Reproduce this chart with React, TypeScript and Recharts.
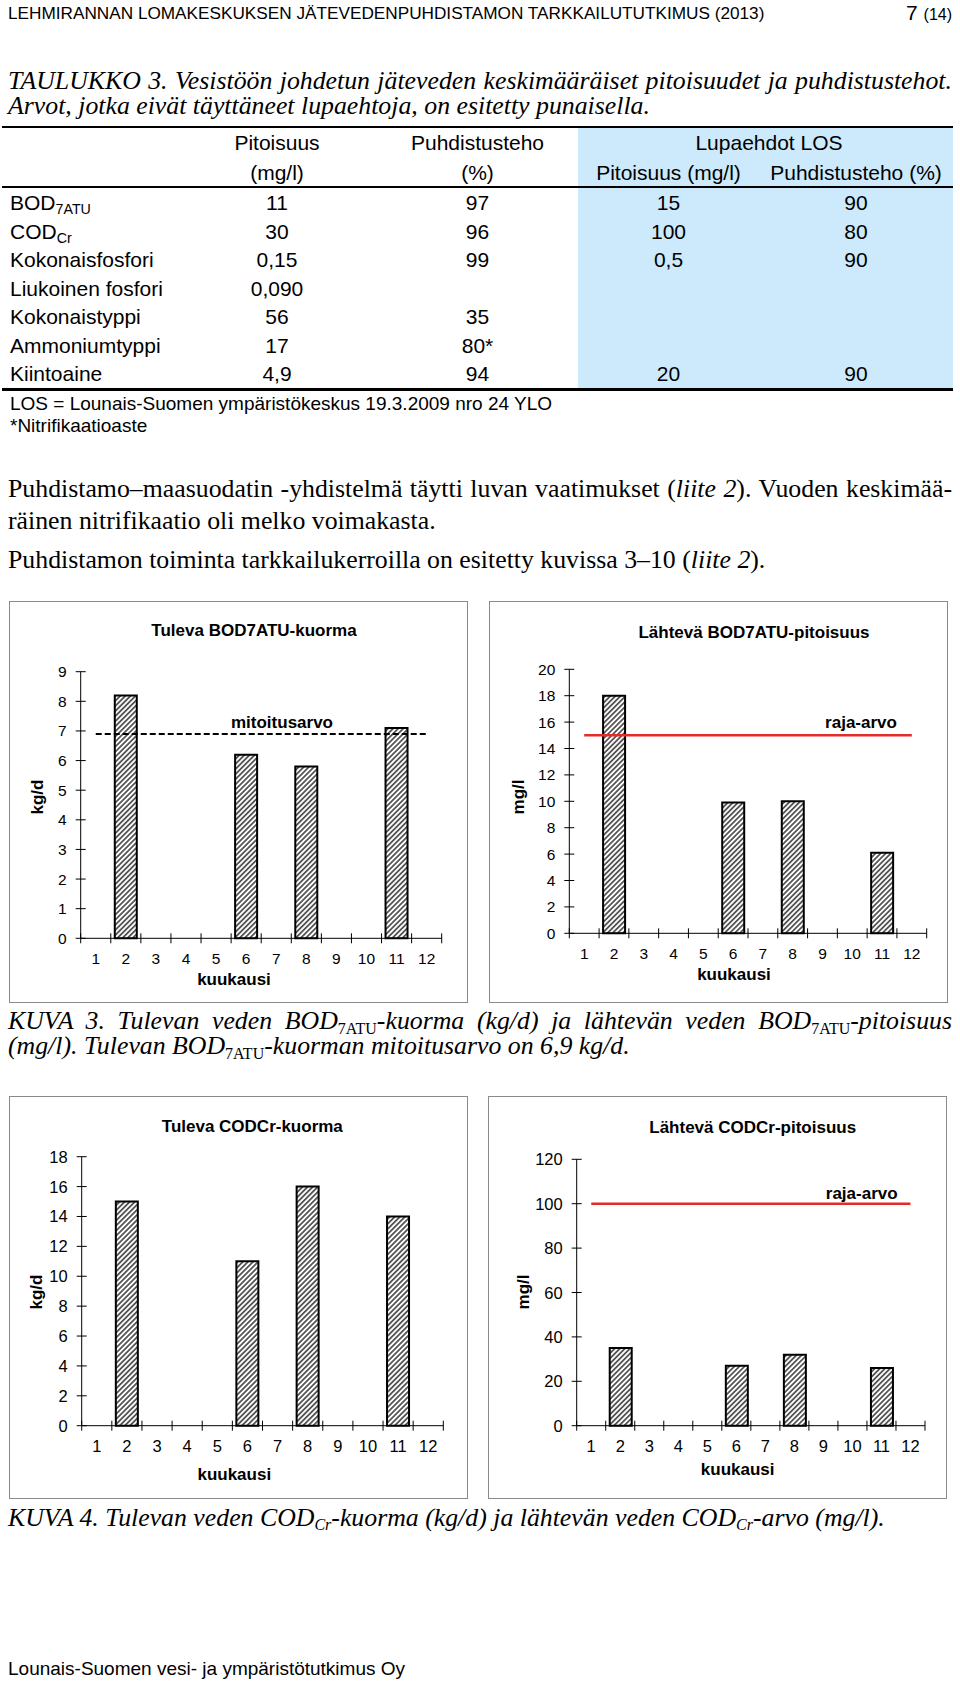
import React from 'react';
import { ComposedChart, Bar, XAxis, YAxis, ReferenceLine } from 'recharts';

// ---------- data ----------
const months = ['1', '2', '3', '4', '5', '6', '7', '8', '9', '10', '11', '12'];
const bodInLoad = [null, 8.2, null, null, null, 6.2, null, 5.8, null, null, 7.1, null];
const bodOutConc = [null, 18, null, null, null, 9.9, null, 10, null, null, 6.1, null];
const codInLoad = [null, 15, null, null, null, 11, null, 16, null, null, 14, null];
const codOutConc = [null, 35, null, null, null, 27, null, 32, null, null, 26, null];
const bodInTicks = [0, 1, 2, 3, 4, 5, 6, 7, 8, 9];
const bodOutTicks = [0, 2, 4, 6, 8, 10, 12, 14, 16, 18, 20];
const codInTicks = [0, 2, 4, 6, 8, 10, 12, 14, 16, 18];
const codOutTicks = [0, 20, 40, 60, 80, 100, 120];
const bodDesignValue = 6.9;
const bodOutLimit = 15;
const codOutLimit = 100;

const rowNames = ['BOD', 'COD', 'Kokonaisfosfori', 'Liukoinen fosfori', 'Kokonaistyppi', 'Ammoniumtyppi', 'Kiintoaine'];
const rowSubs = ['7ATU', 'Cr', '', '', '', '', ''];
const concVals = ['11', '30', '0,15', '0,090', '56', '17', '4,9'];
const effVals = ['97', '96', '99', '', '35', '80*', '94'];
const permitConc = ['15', '100', '0,5', '', '', '', '20'];
const permitEff = ['90', '80', '90', '', '', '', '90'];

// ---------- styles ----------
const SANS = "'Liberation Sans', Arial, Helvetica, sans-serif";
const SERIF = "'Liberation Serif', 'Times New Roman', Times, serif";
const TS = 5;
const TM = 5;
const BODY = 25.8;

type TProps = {
  x: number; y: number; size: number; children: React.ReactNode;
  anchor?: 'start' | 'middle' | 'end'; bold?: boolean; italic?: boolean; serif?: boolean; rotate?: boolean;
};

function T({ x, y, size, children, anchor = 'start', bold = false, italic = false, serif = false, rotate = false }: TProps) {
  const tx = anchor === 'middle' ? '-50%' : anchor === 'end' ? '-100%' : '0';
  const style: React.CSSProperties = {
    position: 'absolute', left: x, top: y, fontSize: size, lineHeight: `${size}px`, whiteSpace: 'nowrap',
    fontWeight: bold ? 700 : 400, fontStyle: italic ? 'italic' : 'normal', fontFamily: serif ? SERIF : SANS,
    color: '#000',
    transform: rotate ? 'translate(-50%,-50%) rotate(-90deg)' : `translate(${tx},-50%)`,
  };
  return <div style={style}>{children}</div>;
}

function J({ y, size, italic = true, children }: { y: number; size: number; italic?: boolean; children: React.ReactNode }) {
  return (
    <div style={{
      position: 'absolute', left: 8, top: y, width: 944, fontSize: size, lineHeight: `${size}px`,
      fontFamily: SERIF, fontStyle: italic ? 'italic' : 'normal', textAlign: 'justify', textAlignLast: 'justify',
      transform: 'translateY(-50%)', color: '#000',
    }}>{children}</div>
  );
}

const Sub = ({ children, italic = false, size = '0.62em' }: { children: React.ReactNode; italic?: boolean; size?: string }) => (
  <span style={{ fontSize: size, position: 'relative', top: '0.3em', lineHeight: 0, fontStyle: italic ? 'italic' : 'normal' }}>{children}</span>
);

function YTick(props: any) {
  const { x, y, payload, fs } = props;
  const ax = x + TS + TM;
  return (
    <g>
      <line x1={ax - 5} x2={ax + 5} y1={y} y2={y} stroke="#000" strokeWidth={1} />
      <text x={ax - 14} y={y} textAnchor="end" dominantBaseline="central" fontSize={fs} fontFamily={SANS} fill="#000">
        {payload.value}
      </text>
    </g>
  );
}

function XTick(props: any) {
  const { x, y, payload, index, bw, fs } = props;
  const ay = y - TS - TM;
  return (
    <g>
      <line x1={x - bw / 2} x2={x - bw / 2} y1={ay - 5} y2={ay + 5} stroke="#000" strokeWidth={1} />
      {index === 11 && <line x1={x + bw / 2} x2={x + bw / 2} y1={ay - 5} y2={ay + 5} stroke="#000" strokeWidth={1} />}
      <text x={x} y={ay + 20} textAnchor="middle" dominantBaseline="central" fontSize={fs} fontFamily={SANS} fill="#000">
        {payload.value}
      </text>
    </g>
  );
}

type ChartCfg = {
  left: number; top: number; w: number; h: number; yW: number; mTop: number; mRight: number; xH: number;
  values: (number | null)[]; ticks: number[]; max: number; limit?: number; limitColor?: string; dashed?: boolean; fs: number;
};

function Chart({ c }: { c: ChartCfg }) {
  const data = months.map((m, i) => ({ m, v: c.values[i] }));
  const bw = (c.w - c.yW - c.mRight) / 12;
  return (
    <div style={{ position: 'absolute', left: c.left, top: c.top, width: c.w, height: c.h }}>
      <div style={{ position: 'absolute', left: 0, top: 0, width: c.w, height: c.h, border: '1.5px solid #8a8a8a', boxSizing: 'border-box' }} />
      <div style={{ position: 'absolute', left: 0, top: 0 }}>
        <ComposedChart width={c.w} height={c.h} data={data} margin={{ top: c.mTop, right: c.mRight, left: 0, bottom: 0 }}>
          <XAxis dataKey="m" interval={0} height={c.xH} tickSize={TS} tickMargin={TM} tickLine={false}
            axisLine={{ stroke: '#000', strokeWidth: 1 }} tick={(p: any) => <XTick {...p} bw={bw} fs={c.fs} />} />
          <YAxis type="number" domain={[0, c.max]} ticks={c.ticks} interval={0} width={c.yW} tickSize={TS} tickMargin={TM}
            tickLine={false} axisLine={{ stroke: '#000', strokeWidth: 1 }} tick={(p: any) => <YTick {...p} fs={c.fs} />} />
          <Bar dataKey="v" fill="url(#hatch)" stroke="#000" strokeWidth={2} barSize={22} isAnimationActive={false} />
          {c.limit !== undefined && (
            <ReferenceLine segment={[{ x: '1', y: c.limit }, { x: '12', y: c.limit }]}
              stroke={c.limitColor} strokeWidth={c.dashed ? 2 : 2.5} strokeDasharray={c.dashed ? '6 3' : undefined} />
          )}
        </ComposedChart>
      </div>
    </div>
  );
}

const chart1: ChartCfg = { left: 9, top: 601, w: 459, h: 402, yW: 71.7, mTop: 70.7, mRight: 26.3, xH: 64.7, values: bodInLoad, ticks: bodInTicks, max: 9, limit: bodDesignValue, limitColor: '#000', dashed: true, fs: 15.5 };
const chart2: ChartCfg = { left: 489, top: 601, w: 459, h: 402, yW: 80.3, mTop: 68.3, mRight: 21.3, xH: 69.7, values: bodOutConc, ticks: bodOutTicks, max: 20, limit: bodOutLimit, limitColor: '#e32b2b', fs: 15.5 };
const chart3: ChartCfg = { left: 9, top: 1096, w: 459, h: 403, yW: 72.7, mTop: 60.7, mRight: 24.7, xH: 73.3, values: codInLoad, ticks: codInTicks, max: 18, fs: 16.5 };
const chart4: ChartCfg = { left: 488, top: 1096, w: 459, h: 403, yW: 88.7, mTop: 63.3, mRight: 22, xH: 73.3, values: codOutConc, ticks: codOutTicks, max: 120, limit: codOutLimit, limitColor: '#e32b2b', fs: 16.5 };

const rowY = [202, 230.5, 259, 287.5, 316, 344.5, 373];

export default function App() {
  return (
    <div style={{ position: 'absolute', left: 0, top: 0, width: 960, height: 1681, background: '#fff', overflow: 'hidden', fontFamily: SANS }}>
      <svg width={0} height={0} style={{ position: 'absolute' }}>
        <defs>
          <pattern id="hatch" patternUnits="userSpaceOnUse" width={3.6} height={3.6} patternTransform="rotate(45)">
            <rect width={3.6} height={3.6} fill="#fff" />
            <line x1={1.8} y1={0} x2={1.8} y2={3.6} stroke="#000" strokeWidth={1.2} />
          </pattern>
        </defs>
      </svg>

      {/* page header */}
      <T x={8} y={14} size={17.2}>LEHMIRANNAN LOMAKESKUKSEN JÄTEVEDENPUHDISTAMON TARKKAILUTUTKIMUS (2013)</T>
      <T x={952} y={13} size={21} anchor="end">7 <span style={{ fontSize: 16 }}>(14)</span></T>

      {/* table caption */}
      <J y={80.5} size={BODY}>TAULUKKO 3. Vesistöön johdetun jäteveden keskimääräiset pitoisuudet ja puhdistustehot.</J>
      <T x={8} y={106} size={BODY} serif italic>Arvot, jotka eivät täyttäneet lupaehtoja, on esitetty punaisella.</T>

      {/* table */}
      <div style={{ position: 'absolute', left: 578, top: 128, width: 375, height: 260, background: '#cceafb' }} />
      <div style={{ position: 'absolute', left: 2, top: 125.5, width: 951, height: 2.2, background: '#000' }} />
      <div style={{ position: 'absolute', left: 2, top: 185.5, width: 951, height: 2.5, background: '#000' }} />
      <div style={{ position: 'absolute', left: 2, top: 388, width: 951, height: 2.5, background: '#000' }} />
      <T x={277} y={142} size={21} anchor="middle">Pitoisuus</T>
      <T x={277} y={171.5} size={21} anchor="middle">(mg/l)</T>
      <T x={477.5} y={142} size={21} anchor="middle">Puhdistusteho</T>
      <T x={477.5} y={171.5} size={21} anchor="middle">(%)</T>
      <T x={769} y={142} size={21} anchor="middle">Lupaehdot LOS</T>
      <T x={668.5} y={171.5} size={21} anchor="middle">Pitoisuus (mg/l)</T>
      <T x={856} y={171.5} size={21} anchor="middle">Puhdistusteho (%)</T>
      {rowNames.map((n, i) => (
        <React.Fragment key={n}>
          <T x={10} y={rowY[i]} size={21}>{n}{rowSubs[i] && <Sub size="0.68em">{rowSubs[i]}</Sub>}</T>
          <T x={277} y={rowY[i]} size={21} anchor="middle">{concVals[i]}</T>
          <T x={477.5} y={rowY[i]} size={21} anchor="middle">{effVals[i]}</T>
          <T x={668.5} y={rowY[i]} size={21} anchor="middle">{permitConc[i]}</T>
          <T x={856} y={rowY[i]} size={21} anchor="middle">{permitEff[i]}</T>
        </React.Fragment>
      ))}
      <T x={10} y={403} size={19}>LOS = Lounais-Suomen ympäristökeskus 19.3.2009 nro 24 YLO</T>
      <T x={10} y={424.5} size={19}>*Nitrifikaatioaste</T>

      {/* paragraph */}
      <J y={489} size={BODY} italic={false}>Puhdistamo–maasuodatin -yhdistelmä täytti luvan vaatimukset (<i>liite 2</i>). Vuoden keskimää-</J>
      <T x={8} y={521} size={BODY} serif>räinen nitrifikaatio oli melko voimakasta.</T>
      <T x={8} y={560} size={BODY} serif>Puhdistamon toiminta tarkkailukerroilla on esitetty kuvissa 3–10 (<i>liite 2</i>).</T>

      {/* charts */}
      <Chart c={chart1} />
      <Chart c={chart2} />
      <Chart c={chart3} />
      <Chart c={chart4} />

      {/* chart 1 texts */}
      <T x={254} y={630} size={17} bold anchor="middle">Tuleva BOD7ATU-kuorma</T>
      <T x={282} y={721.5} size={17} bold anchor="middle">mitoitusarvo</T>
      <T x={36.7} y={796.7} size={17} bold rotate>kg/d</T>
      <T x={234} y={979} size={17} bold anchor="middle">kuukausi</T>

      {/* chart 2 texts */}
      <T x={754} y={631.5} size={17} bold anchor="middle">Lähtevä BOD7ATU-pitoisuus</T>
      <T x={861} y={721.5} size={17} bold anchor="middle">raja-arvo</T>
      <T x={518.3} y={796.7} size={17} bold rotate>mg/l</T>
      <T x={734} y={974} size={17} bold anchor="middle">kuukausi</T>

      {/* chart 3 texts */}
      <T x={252.3} y={1126} size={17} bold anchor="middle">Tuleva CODCr-kuorma</T>
      <T x={36} y={1291.7} size={17} bold rotate>kg/d</T>
      <T x={234.3} y={1474} size={17} bold anchor="middle">kuukausi</T>

      {/* chart 4 texts */}
      <T x={752.7} y={1127.3} size={17} bold anchor="middle">Lähtevä CODCr-pitoisuus</T>
      <T x={861.7} y={1192.7} size={17} bold anchor="middle">raja-arvo</T>
      <T x={522.7} y={1291.7} size={17} bold rotate>mg/l</T>
      <T x={737.7} y={1469} size={17} bold anchor="middle">kuukausi</T>

      {/* captions */}
      <J y={1021} size={BODY}>KUVA 3. Tulevan veden BOD<Sub>7ATU</Sub>-kuorma (kg/d) ja lähtevän veden BOD<Sub>7ATU</Sub>-pitoisuus</J>
      <T x={8} y={1046} size={BODY} serif italic>(mg/l). Tulevan BOD<Sub>7ATU</Sub>-kuorman mitoitusarvo on 6,9 kg/d.</T>
      <T x={8} y={1517.5} size={BODY} serif italic>KUVA 4. Tulevan veden COD<Sub italic>Cr</Sub>-kuorma (kg/d) ja lähtevän veden COD<Sub italic>Cr</Sub>-arvo (mg/l).</T>

      {/* footer */}
      <T x={8} y={1668} size={19}>Lounais-Suomen vesi- ja ympäristötutkimus Oy</T>
    </div>
  );
}
